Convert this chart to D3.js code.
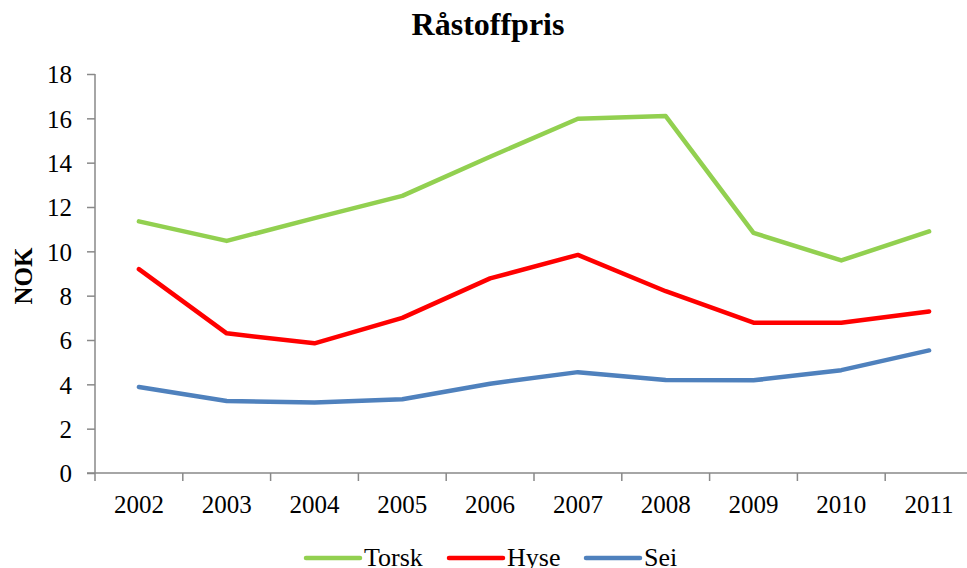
<!DOCTYPE html>
<html>
<head>
<meta charset="utf-8">
<script src="https://cdn.jsdelivr.net/npm/d3@7"></script>
<style>
  body { margin: 0; background: #fff; }
</style>
</head>
<body>
<div id="container"></div>
<script>
let w = 967;
let h = 568;
let serif = "Liberation Serif";

let years = ["2002","2003","2004","2005","2006","2007","2008","2009","2010","2011"];
let torsk = [11.35, 10.47, 11.5, 12.5, 14.27, 15.98, 16.1, 10.83, 9.59, 10.9];
let hyse = [9.2, 6.3, 5.85, 7.0, 8.78, 9.84, 8.2, 6.78, 6.78, 7.29];
let sei = [3.88, 3.25, 3.18, 3.33, 4.03, 4.55, 4.2, 4.18, 4.64, 5.53];
let yTicks = [0,2,4,6,8,10,12,14,16,18];

let seriesNames = ["Torsk","Hyse","Sei"];
let seriesValues = [torsk, hyse, sei];
let seriesColors = ["#92D050","#FF0000","#4F81BD"];

let plotLeft = 95, plotRight = 973, plotTop = 74, plotBottom = 473;

let viz = d3.select("#container")
  .append("svg")
    .attr("width", w)
    .attr("height", h)
    .attr("font-family", serif)
;

let xScale = d3.scaleBand().domain(years).range([plotLeft, plotRight]);
let yScale = d3.scaleLinear().domain([0, 18]).range([plotBottom, plotTop]);

// title
viz.append("text")
  .text("Råstoffpris")
  .attr("x", 488)
  .attr("y", 35)
  .attr("text-anchor", "middle")
  .attr("font-family", serif)
  .attr("font-size", "32px")
  .attr("font-weight", "bold")
;

// y label
viz.append("text")
  .text("NOK")
  .attr("transform", "translate(32,276) rotate(-90)")
  .attr("text-anchor", "middle")
  .attr("font-family", serif)
  .attr("font-size", "25px")
  .attr("font-weight", "bold")
;

// y axis
let yAxis = d3.axisLeft(yScale).tickValues(yTicks).tickSize(8).tickPadding(15);
let yAxisGroup = viz.append("g").attr("class","yaxis")
  .attr("transform","translate("+plotLeft+",0)")
  .call(yAxis);
yAxisGroup.attr("font-family", serif);
yAxisGroup.selectAll("text").attr("font-size","25px").attr("fill","#000").attr("dy","0.35em");
yAxisGroup.selectAll("line, path").attr("stroke","#898989").attr("stroke-width",1.5);
yAxisGroup.select(".domain").attr("d","M0,"+plotTop+"V"+plotBottom);

// x axis
let xAxisGroup = viz.append("g").attr("class","xaxis")
  .attr("transform","translate(0,"+plotBottom+")");
xAxisGroup.append("line")
  .attr("x1", plotLeft - 8).attr("x2", plotRight)
  .attr("stroke","#898989").attr("stroke-width",1.5);
let xTickPos = years.map(function(d){ return xScale(d); });
xTickPos.push(plotRight);
xAxisGroup.selectAll(".xtick").data(xTickPos).enter()
  .append("line")
    .attr("class","xtick")
    .attr("x1", function(d){ return d; })
    .attr("x2", function(d){ return d; })
    .attr("y1", 0).attr("y2", 8)
    .attr("stroke","#898989").attr("stroke-width",1.5)
;
xAxisGroup.selectAll(".xlabel").data(years).enter()
  .append("text")
    .attr("class","xlabel")
    .text(function(d){ return d; })
    .attr("x", function(d){ return xScale(d) + xScale.bandwidth()/2; })
    .attr("y", 40)
    .attr("text-anchor","middle")
    .attr("font-family", serif)
    .attr("font-size","25px")
;

// lines
let line = d3.line()
  .x(function(d,i){ return xScale(years[i]) + xScale.bandwidth()/2; })
  .y(function(d){ return yScale(d); });

viz.selectAll(".series").data(seriesValues).enter()
  .append("path")
    .attr("class","series")
    .attr("d", line)
    .attr("fill","none")
    .attr("stroke", function(d,i){ return seriesColors[i]; })
    .attr("stroke-width", 4.5)
    .attr("stroke-linejoin","round")
    .attr("stroke-linecap","round")
;

// legend
let legendX = [306, 449, 586];
let legend = viz.selectAll(".legend").data(seriesNames).enter()
  .append("g")
    .attr("class","legend")
    .attr("transform", function(d,i){ return "translate("+legendX[i]+",558)"; })
;
legend.append("line")
  .attr("x1",0).attr("x2",54).attr("y1",0).attr("y2",0)
  .attr("stroke", function(d,i){ return seriesColors[i]; })
  .attr("stroke-width",4.5)
  .attr("stroke-linecap","round");
legend.append("text")
  .text(function(d){ return d; })
  .attr("x",58).attr("y",8)
  .attr("font-family", serif)
  .attr("font-size","26px");
</script>
</body>
</html>
